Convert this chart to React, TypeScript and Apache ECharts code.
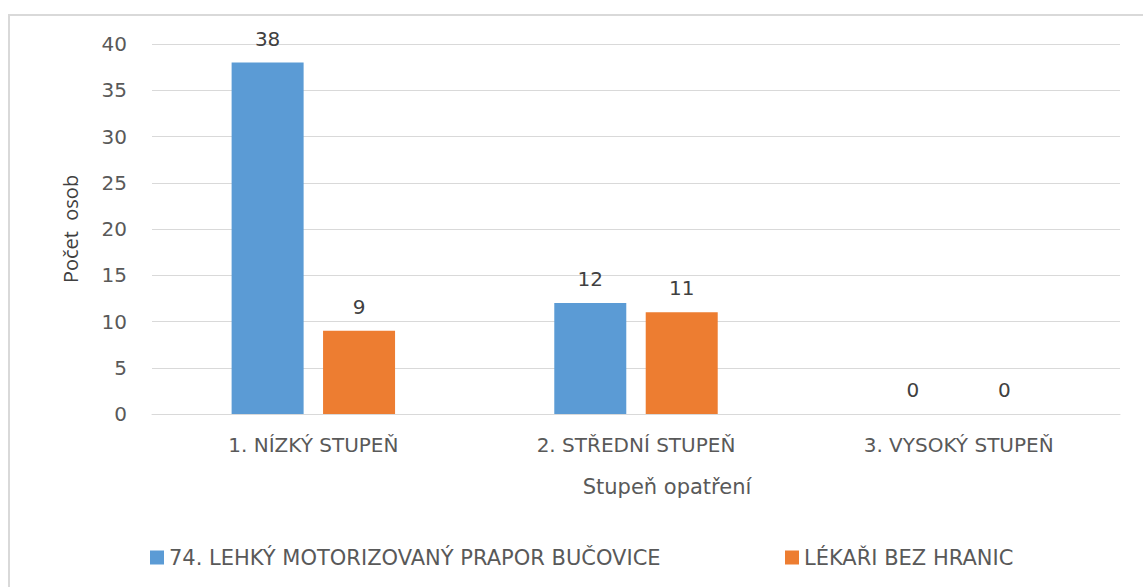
import React, { useEffect, useRef } from "react";
import * as echarts from "echarts";

const categories = ["1. NÍZKÝ STUPEŇ", "2. STŘEDNÍ STUPEŇ", "3. VYSOKÝ STUPEŇ"];
const seriesNames = ["74. LEHKÝ MOTORIZOVANÝ PRAPOR BUČOVICE", "LÉKAŘI BEZ HRANIC"];
const valuesPrapor = [38, 12, 0];
const valuesLekari = [9, 11, 0];
const yTicks = { min: 0, max: 40, interval: 5 };
const xTitle = "Stupeň opatření";
const yTitle = "Počet  osob";

const FONT = "'DejaVu Sans', 'Open Sans', sans-serif";
const TEXT = "#595959";

export default function App() {
  const ref = useRef<HTMLDivElement>(null);
  useEffect(() => {
    const chart = echarts.init(ref.current!, null, { renderer: "svg" });
    const labelStyle = {
      show: true,
      position: "top" as const,
      color: "#404040",
      fontSize: 20,
      fontFamily: FONT,
      distance: 14,
    };
    const legendBase = {
      top: 542,
      itemWidth: 14,
      itemHeight: 14,
      icon: "rect",
      textStyle: { color: TEXT, fontSize: 21, fontFamily: FONT },
    };
    chart.setOption({
      animation: false,
      backgroundColor: "#ffffff",
      textStyle: { fontFamily: FONT },
      graphic: [
        {
          type: "rect",
          shape: { x: 9, y: 15, width: 1200, height: 700 },
          style: { fill: "none", stroke: "#d9d9d9", lineWidth: 2 },
          silent: true,
          z: -1,
        },
        {
          type: "text",
          x: 667,
          y: 487,
          style: {
            text: xTitle,
            fill: TEXT,
            fontSize: 21,
            fontFamily: FONT,
            align: "center",
            verticalAlign: "middle",
          },
        },
      ],
      grid: { left: 152, right: 23, top: 44, bottom: 173, containLabel: false },
      legend: [
        { ...legendBase, left: 145, data: [seriesNames[0]] },
        { ...legendBase, left: 780, data: [seriesNames[1]] },
      ],
      xAxis: {
        type: "category",
        data: categories,
        axisLine: { show: true, lineStyle: { color: "#d9d9d9", width: 1 } },
        axisTick: { show: false },
        axisLabel: { color: TEXT, fontSize: 20, fontFamily: FONT, margin: 21 },
      },
      yAxis: {
        type: "value",
        min: yTicks.min,
        max: yTicks.max,
        interval: yTicks.interval,
        name: yTitle,
        nameLocation: "middle",
        nameGap: 72,
        nameTextStyle: { color: "#404040", fontSize: 20, fontFamily: "'Open Sans', sans-serif" },
        axisLine: { show: false },
        axisTick: { show: false },
        splitLine: { lineStyle: { color: "#d9d9d9", width: 1 } },
        axisLabel: { color: TEXT, fontSize: 20, fontFamily: FONT, margin: 25 },
      },
      series: [
        {
          name: seriesNames[0],
          type: "bar",
          data: valuesPrapor,
          barWidth: 72,
          barGap: "27%",
          itemStyle: { color: "#5B9BD5" },
          label: labelStyle,
        },
        {
          name: seriesNames[1],
          type: "bar",
          data: valuesLekari,
          barWidth: 72,
          barGap: "27%",
          itemStyle: { color: "#ED7D31" },
          label: labelStyle,
        },
      ],
    });
    return () => chart.dispose();
  }, []);
  return (
    <div
      ref={ref}
      style={{ position: "absolute", left: 0, top: 0, width: 1143, height: 587 }}
    />
  );
}
